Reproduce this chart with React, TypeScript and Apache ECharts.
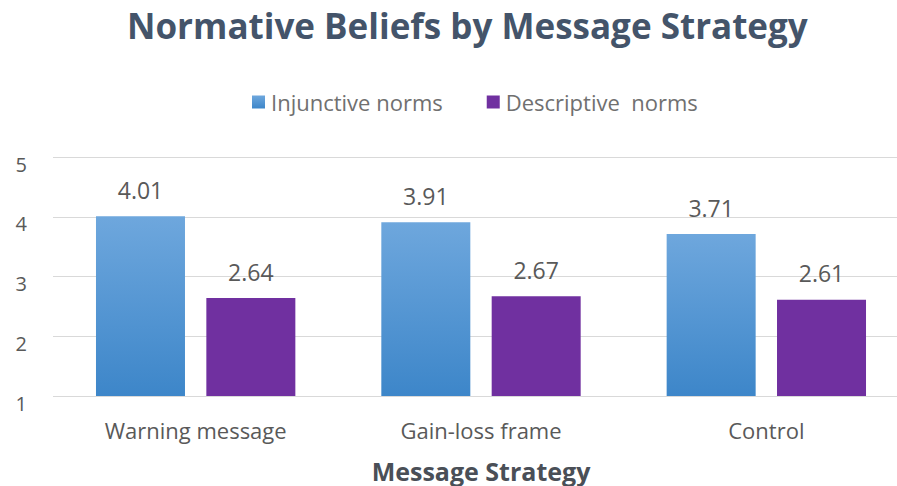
import React, { useEffect, useRef } from "react";
import * as echarts from "echarts";

const categories = ["Warning message", "Gain-loss frame", "Control"];
const injunctive = [4.01, 3.91, 3.71];
const descriptive = [2.64, 2.67, 2.61];
const yTicks = [1, 2, 3, 4, 5];
const seriesNames = ["Injunctive norms", "Descriptive  norms"];

const FONT = "Open Sans";

export default function App() {
  const ref = useRef<HTMLDivElement>(null);
  useEffect(() => {
    if (!ref.current) return;
    const chart = echarts.init(ref.current, undefined, { renderer: "svg" });
    const labelStyle = {
      show: true,
      position: "top" as const,
      distance: 15,
      color: "#595959",
      fontFamily: FONT,
      fontSize: 23,
      formatter: (p: any) => p.value.toFixed(2),
    };
    chart.setOption({
      animation: false,
      backgroundColor: "#ffffff",
      title: {
        text: "Normative Beliefs by Message Strategy",
        left: 122,
        top: 3,
        textStyle: {
          fontFamily: FONT,
          fontWeight: "bold",
          fontSize: 35,
          color: "#44546A",
        },
      },
      legend: {
        left: 247,
        top: 86,
        itemWidth: 13,
        itemHeight: 13,
        itemGap: 44,
        icon: "rect",
        textStyle: { fontFamily: FONT, fontSize: 22, color: "#707070", padding: [0, 0, 0, 1] },
        data: seriesNames,
      },
      grid: { left: 53, width: 856, top: 157, bottom: 90 },
      xAxis: {
        type: "category",
        data: categories,
        axisLine: { show: false },
        axisTick: { show: false },
        axisLabel: { fontFamily: FONT, fontSize: 22, color: "#595959", margin: 23 },
        name: "Message Strategy",
        nameLocation: "middle",
        nameGap: 62,
        nameTextStyle: { fontFamily: FONT, fontSize: 25, fontWeight: "bold", color: "#4a4f57" },
      },
      yAxis: {
        type: "value",
        min: yTicks[0],
        max: yTicks[yTicks.length - 1],
        interval: 1,
        axisLine: { show: false },
        axisTick: { show: false },
        splitLine: { lineStyle: { color: "#d9d9d9", width: 1 } },
        axisLabel: {
          fontFamily: FONT,
          fontSize: 20,
          color: "#595959",
          margin: 26,
          verticalAlign: "top",
          lineHeight: 14,
        },
      },
      series: [
        {
          name: seriesNames[0],
          type: "bar",
          data: injunctive,
          barWidth: 89,
          barGap: "24%",
          itemStyle: {
            color: new echarts.graphic.LinearGradient(0, 0, 0, 1, [
              { offset: 0, color: "#6ea7dd" },
              { offset: 1, color: "#3d86c9" },
            ]),
          },
          label: labelStyle,
        },
        {
          name: seriesNames[1],
          type: "bar",
          data: descriptive,
          barWidth: 89,
          barGap: "24%",
          itemStyle: { color: "#7030a0" },
          label: labelStyle,
        },
      ],
    });
    return () => chart.dispose();
  }, []);
  return (
    <div
      style={{
        position: "fixed",
        left: 0,
        top: 0,
        width: 897,
        height: 486,
        overflow: "hidden",
        background: "#ffffff",
      }}
    >
      <div ref={ref} style={{ width: 920, height: 486 }} />
    </div>
  );
}
